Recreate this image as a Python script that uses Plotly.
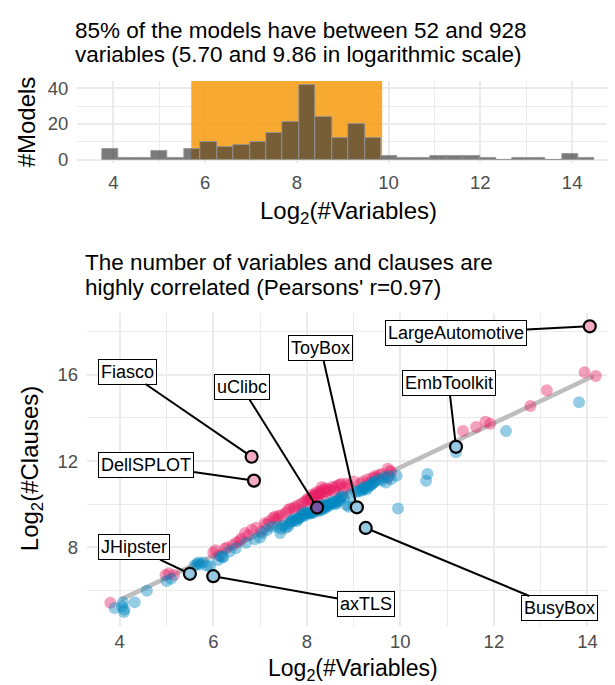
import plotly.graph_objects as go

# ---------------- data ----------------
# histogram of log2(#variables): 30 bins
bin_centers = [3.933, 4.291, 4.649, 5.007, 5.365, 5.723, 6.081, 6.439, 6.797, 7.155,
               7.513, 7.871, 8.229, 8.587, 8.945, 9.303, 9.661, 10.019, 10.377, 10.735,
               11.093, 11.451, 11.809, 12.167, 12.525, 12.883, 13.241, 13.599, 13.957, 14.315]
bin_counts = [6, 1, 1, 5, 1, 6, 10, 7, 8, 10, 15, 21, 42, 24, 12, 20, 12, 2, 1, 1,
              2, 2, 2, 1, 0, 1, 1, 0, 3, 1]
bin_width = 0.358
range_low, range_high = 5.70, 9.86

# scatter: group A (pink) and group B (blue), log2(#variables) vs log2(#clauses)
pink_x = [3.80, 4.98, 5.16, 5.05, 6.00, 6.05, 6.12, 6.25, 6.30, 6.42, 6.50, 6.57, 6.60,
          6.68, 6.82, 6.75, 6.92, 7.02, 7.10, 7.32, 7.20, 7.28, 7.15, 7.46, 7.60, 7.40,
          7.55, 7.65, 7.35, 7.75, 7.89, 8.00, 7.72, 7.95, 7.82, 8.02, 7.90,
          8.25, 8.14, 8.10, 8.18, 8.20, 8.28, 8.32, 8.35, 8.08, 8.12, 8.22, 8.30, 8.38,
          8.40, 8.15, 8.24, 8.06, 8.34,
          8.76, 8.45, 8.50, 8.55, 8.60, 8.65, 8.70, 8.42, 8.58, 8.74,
          8.85, 8.90, 9.00, 8.80,
          9.34, 9.49, 9.20, 9.30, 9.40, 9.15, 9.45,
          9.73, 9.80, 9.73, 9.60, 9.55, 9.78,
          11.34, 11.62, 11.82, 11.92, 12.78, 13.13, 13.94, 14.18]
pink_y = [5.41, 6.70, 6.70, 6.78, 7.75, 7.85, 7.62, 7.94, 7.98, 8.10, 8.22, 8.28, 8.40,
          8.66, 8.81, 8.55, 8.90, 8.72, 9.11, 9.42, 9.20, 9.35, 9.05, 9.49, 9.72, 9.45,
          9.60, 9.80, 9.30, 9.87, 10.03, 10.18, 9.80, 10.10, 9.95, 10.25, 9.70,
          10.48, 10.36, 10.30, 10.42, 10.55, 10.60, 10.79, 10.65, 10.25, 10.45, 10.35, 10.50, 10.72,
          10.60, 10.20, 10.30, 10.15, 10.45,
          10.45, 10.70, 10.65, 10.80, 10.75, 10.85, 10.90, 10.55, 10.60, 10.95,
          10.94, 10.87, 11.05, 10.75,
          11.00, 11.23, 11.05, 11.15, 11.20, 10.95, 11.30,
          11.64, 11.47, 11.21, 11.40, 11.35, 11.55,
          13.40, 13.58, 13.82, 13.73, 14.56, 15.29, 16.13, 15.95]

blue_x = [3.89, 4.07, 4.09, 4.05, 4.10, 4.32, 4.58, 5.00, 5.10,
          5.60, 5.65, 5.68, 5.71, 5.78, 5.86, 5.93, 6.16, 6.21, 6.10, 6.20,
          6.35, 6.48, 6.89, 6.70, 7.05, 7.15, 7.25, 7.00,
          7.43, 7.60, 7.67, 7.50, 7.62, 7.55, 7.38, 7.68, 7.45,
          7.82, 8.03, 7.75, 7.78, 7.88, 7.92, 7.98, 7.70, 7.85, 7.95, 8.00, 7.80, 7.93,
          8.32, 8.10, 8.15, 8.20, 8.25, 8.28, 8.35, 8.38, 8.40, 8.08, 8.12, 8.18, 8.22,
          8.26, 8.30, 8.36, 8.06, 8.14, 8.24, 8.34, 8.28, 8.20, 8.39,
          8.60, 8.75, 8.45, 8.50, 8.55, 8.65, 8.70, 8.48, 8.58, 8.68, 8.72, 8.62, 8.52, 8.44,
          8.90, 8.85, 9.00, 8.95, 9.05, 9.10, 8.80,
          9.28, 9.43, 9.15, 9.20, 9.25, 9.35, 9.40, 9.18, 9.30, 9.45, 9.22, 9.38,
          9.80, 9.69, 9.60, 9.55, 9.65, 9.75,
          9.95, 9.92, 10.55, 10.58, 11.19, 12.26, 13.82]
blue_y = [5.17, 5.44, 4.98, 5.25, 5.10, 5.44, 5.97, 6.43, 6.53,
          7.15, 7.22, 7.29, 7.19, 7.29, 7.13, 7.11, 7.58, 7.52, 7.40, 7.55,
          7.80, 7.95, 8.36, 8.20, 8.66, 8.80, 8.95, 8.45,
          8.66, 8.96, 9.19, 9.00, 9.08, 8.90, 8.95, 9.25, 8.85,
          9.34, 9.57, 9.30, 9.20, 9.42, 9.50, 9.55, 9.22, 9.38, 9.45, 9.62, 9.28, 9.60,
          9.80, 9.62, 9.70, 9.75, 9.78, 9.85, 9.88, 9.92, 9.95, 9.60, 9.66, 9.72, 9.80,
          9.90, 9.70, 9.78, 9.55, 9.58, 9.68, 9.95, 9.75, 9.85, 9.82,
          10.03, 10.36, 9.98, 10.00, 10.05, 10.10, 10.15, 9.92, 10.12, 10.22, 10.30, 10.00, 10.08, 9.90,
          9.88, 9.95, 9.92, 10.45, 10.55, 10.62, 10.30,
          10.68, 11.00, 10.60, 10.75, 10.80, 10.85, 10.95, 10.65, 10.78, 11.05, 10.70, 10.90,
          11.15, 11.00, 11.10, 11.15, 11.25, 11.30,
          9.80, 11.32, 11.08, 11.40, 12.41, 13.39, 14.73]

# highlighted models
label_names = ["Fiasco", "DellSPLOT", "uClibc", "ToyBox", "LargeAutomotive",
               "EmbToolkit", "JHipster", "axTLS", "BusyBox"]
label_x = [6.82, 6.87, 8.22, 9.07, 14.05, 11.19, 5.50, 6.00, 9.26]
label_y = [12.20, 11.09, 9.84, 9.85, 18.26, 12.66, 6.76, 6.65, 8.89]
label_group = ["pink", "pink", "mixed", "blue", "pink", "blue", "blue", "blue", "blue"]

# linear fit
fit_x = [4.03, 14.13]
fit_intercept, fit_slope = 1.428, 1.028

# ---------------- layout / style ----------------
W, H = 615, 685
FONT = "Liberation Sans, Arial, Helvetica, sans-serif"
GRID = "#EBEBEB"
TICKC = "#4D4D4D"
PINK = "rgba(232,30,99,0.42)"
BLUE = "rgba(0,135,192,0.42)"
FILL = {"pink": "rgba(245,170,196,1)", "blue": "rgba(150,200,226,1)", "mixed": "rgba(118,84,168,1)"}

# label box positions (data coords of the box centre)
label_pos = {
    "Fiasco": (4.16, 16.16), "DellSPLOT": (4.56, 11.80), "uClibc": (6.61, 15.43),
    "ToyBox": (8.30, 17.23), "LargeAutomotive": (11.19, 17.95), "EmbToolkit": (11.03, 15.64),
    "JHipster": (4.30, 8.00), "axTLS": (9.27, 5.38), "BusyBox": (13.40, 5.15),
}

def px_x(p):
    return p / W

def px_y(p):
    return 1 - p / H

fig = go.Figure()

# histogram
fig.add_trace(go.Bar(
    x=bin_centers, y=bin_counts, width=bin_width,
    marker=dict(color="rgba(57,57,57,0.67)", line=dict(color="rgba(150,150,150,0.85)", width=1)),
    xaxis="x", yaxis="y", showlegend=False, hoverinfo="skip"))

# fit line
fig.add_trace(go.Scatter(
    x=fit_x, y=[fit_intercept + fit_slope * v for v in fit_x], mode="lines",
    line=dict(color="rgb(190,190,190)", width=4.5),
    xaxis="x2", yaxis="y2", showlegend=False, hoverinfo="skip"))

fig.add_trace(go.Scatter(
    x=pink_x, y=pink_y, mode="markers",
    marker=dict(size=12, color=PINK, line=dict(width=0)),
    xaxis="x2", yaxis="y2", showlegend=False))
fig.add_trace(go.Scatter(
    x=blue_x, y=blue_y, mode="markers",
    marker=dict(size=12, color=BLUE, line=dict(width=0)),
    xaxis="x2", yaxis="y2", showlegend=False))
fig.add_trace(go.Scatter(
    x=label_x, y=label_y, mode="markers",
    marker=dict(size=12, color=[FILL[g] for g in label_group], line=dict(width=2.2, color="black")),
    xaxis="x2", yaxis="y2", showlegend=False))

# orange band (shape between grid and bars)
fig.add_shape(type="rect", xref="x", yref="y", x0=range_low, x1=range_high, y0=0, y1=44.1,
              fillcolor="rgba(247,155,15,0.86)", line=dict(width=0), layer="between")

annotations = []
for name, px_, py_ in zip(label_names, label_x, label_y):
    lx, ly = label_pos[name]
    annotations.append(dict(
        x=px_, y=py_, xref="x2", yref="y2", ax=lx, ay=ly, axref="x2", ayref="y2",
        text=name, showarrow=True, arrowhead=0, arrowwidth=2, arrowcolor="black",
        standoff=6, bgcolor="white", bordercolor="black", borderwidth=1, borderpad=2,
        font=dict(family=FONT, size=18, color="black")))

def txt(text, x, y, size, xanchor="left", yanchor="middle", angle=0, color="black"):
    annotations.append(dict(text=text, x=x, y=y, xref="paper", yref="paper",
                            xanchor=xanchor, yanchor=yanchor, textangle=angle, showarrow=False,
                            borderpad=0, font=dict(family=FONT, size=size, color=color)))

TS = 22.5
txt("85% of the models have between 52 and 928", px_x(66), px_y(20), TS)
txt("variables (5.70 and 9.86 in logarithmic scale)", px_x(66), px_y(44), TS)
txt("The number of variables and clauses are", px_x(76), px_y(255), TS)
txt("highly correlated (Pearsons' r=0.97)", px_x(76), px_y(281), TS)
AT = 24
txt("Log<sub>2</sub>(#Variables)", px_x(340), px_y(204), AT, xanchor="center")
txt("Log<sub>2</sub>(#Variables)", px_x(345), px_y(684), 23, xanchor="center", yanchor="bottom")
txt("#Models", px_x(18), px_y(113), AT, xanchor="center", angle=-90)
txt("Log<sub>2</sub>(#Clauses)", px_x(23), px_y(465), AT, xanchor="center", angle=-90)

tickfont = dict(family=FONT, size=18.5, color=TICKC)
common = dict(showline=False, zeroline=False, ticks="", gridcolor=GRID, gridwidth=1.6,
              tickfont=tickfont, fixedrange=True)

fig.update_layout(
    width=W, height=H, margin=dict(l=0, r=0, t=0, b=0),
    paper_bgcolor="white", plot_bgcolor="white", showlegend=False,
    bargap=0,
    xaxis=dict(domain=[px_x(69.3), px_x(610)], range=[3.216, 15.0], tickmode="linear",
               tick0=0, dtick=2, anchor="y", ticklabelstandoff=6,
               minor=dict(dtick=1, tick0=0, showgrid=True, gridcolor=GRID, gridwidth=0.8), **common),
    yaxis=dict(domain=[px_y(154.5), px_y(71)], range=[-2.1, 44.1], tickmode="linear",
               tick0=0, dtick=20, anchor="x", ticklabelstandoff=8,
               minor=dict(dtick=10, tick0=0, showgrid=True, gridcolor=GRID, gridwidth=0.8), **common),
    xaxis2=dict(domain=[px_x(79), px_x(611.7)], range=[3.30, 14.69], tickmode="linear",
                tick0=0, dtick=2, anchor="y2", ticklabelstandoff=3,
                minor=dict(dtick=1, tick0=0, showgrid=True, gridcolor=GRID, gridwidth=0.8), **common),
    yaxis2=dict(domain=[px_y(624), px_y(306)], range=[4.34, 18.9], tickmode="linear",
                tick0=0, dtick=4, anchor="x2", ticklabelstandoff=8,
                minor=dict(dtick=2, tick0=0, showgrid=True, gridcolor=GRID, gridwidth=0.8), **common),
    annotations=annotations,
)

fig.write_html("out.html")
